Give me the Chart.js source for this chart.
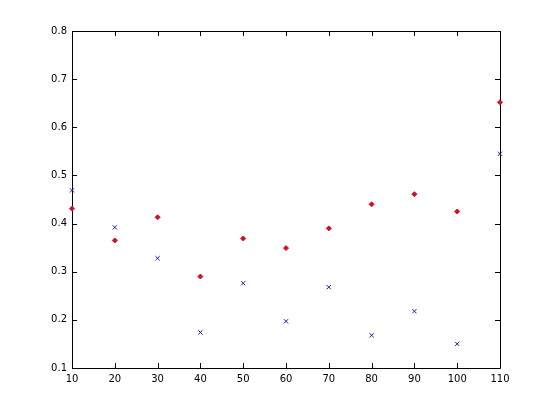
<!DOCTYPE html>
<html>
<head>
<meta charset="utf-8">
<script src="https://cdn.jsdelivr.net/npm/chart.js@4.4.1/dist/chart.umd.min.js"></script>
<style>
  html, body { margin: 0; padding: 0; background: #fff; }
  canvas { display: block; }
</style>
</head>
<body>
<canvas id="chart" width="553" height="414"></canvas>
<script>
// values
const xValues = [10, 20, 30, 40, 50, 60, 70, 80, 90, 100, 110];
const redValues = [0.431, 0.365, 0.413, 0.290, 0.369, 0.349, 0.390, 0.440, 0.461, 0.425, 0.652];
const blueValues = [0.469, 0.392, 0.328, 0.174, 0.276, 0.197, 0.268, 0.168, 0.218, 0.150, 0.545];
const xTicks = [10, 20, 30, 40, 50, 60, 70, 80, 90, 100, 110];
const yTicks = [0.1, 0.2, 0.3, 0.4, 0.5, 0.6, 0.7, 0.8];

const toPoints = ys => xValues.map((x, i) => ({ x, y: ys[i] }));

// matlab style box with inward ticks on all four sides
const boxPlugin = {
  id: 'box',
  beforeDatasetsDraw(chart){
    const { ctx, chartArea: a, scales } = chart;
    const len = 5;
    ctx.save();
    ctx.strokeStyle = '#000';
    ctx.lineWidth = 1;
    ctx.beginPath();
    ctx.rect(a.left + 0.5, a.top + 0.5, a.right - a.left, a.bottom - a.top);
    xTicks.forEach(t => {
      const px = Math.round(scales.x.getPixelForValue(t)) + 0.5;
      ctx.moveTo(px, a.bottom); ctx.lineTo(px, a.bottom - len);
      ctx.moveTo(px, a.top); ctx.lineTo(px, a.top + len);
    });
    yTicks.forEach(t => {
      const py = Math.round(scales.y.getPixelForValue(t)) + 0.5;
      ctx.moveTo(a.left, py); ctx.lineTo(a.left + len, py);
      ctx.moveTo(a.right, py); ctx.lineTo(a.right - len, py);
    });
    ctx.stroke();
    ctx.restore();
  }
};

new Chart(document.getElementById('chart'), {
  type: 'scatter',
  data: {
    datasets: [
      {
        label: 'red',
        data: toPoints(redValues),
        pointStyle: 'rectRot',
        radius: 2.5,
        backgroundColor: '#d0102a',
        borderColor: '#d0102a',
        borderWidth: 1,
        clip: false
      },
      {
        label: 'blue',
        data: toPoints(blueValues),
        pointStyle: 'crossRot',
        radius: 3,
        borderColor: '#1a1aa0',
        borderWidth: 1,
        clip: false
      }
    ]
  },
  options: {
    responsive: false,
    animation: false,
    devicePixelRatio: 1,
    layout: { padding: { left: 0, top: 31, right: 53, bottom: 0 } },
    plugins: { legend: { display: false }, tooltip: { enabled: false } },
    scales: {
      x: {
        type: 'linear',
        min: 10, max: 110,
        afterFit: s => { s.height = 46; },
        afterBuildTicks: s => { s.ticks = xTicks.map(v => ({ value: v })); },
        grid: { display: false, drawTicks: false },
        border: { display: false },
        ticks: { color: '#000', padding: 5, font: { family: 'DejaVu Sans', size: 10 }, maxRotation: 0 }
      },
      y: {
        min: 0.1, max: 0.8,
        afterFit: s => { s.width = 72; },
        afterBuildTicks: s => { s.ticks = yTicks.map(v => ({ value: v })); },
        grid: { display: false, drawTicks: false },
        border: { display: false },
        ticks: { color: '#000', padding: 5, font: { family: 'DejaVu Sans', size: 10 }, callback: v => v.toFixed(1) }
      }
    }
  },
  plugins: [boxPlugin]
});
</script>
</body>
</html>
